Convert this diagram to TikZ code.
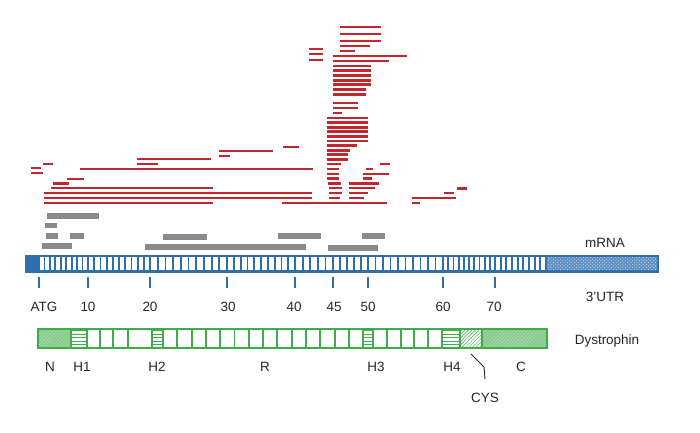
\documentclass[tikz,border=0pt]{standalone}
\usepackage{fontspec}
\setmainfont{Liberation Sans}
\usetikzlibrary{patterns}
\definecolor{mblue}{HTML}{2F6EA8}
\definecolor{ublue}{HTML}{5E8FC2}
\definecolor{rred}{HTML}{C1272D}
\definecolor{ggray}{HTML}{8A8A8A}
\definecolor{dgreen}{HTML}{3FAE49}
\definecolor{lgreen}{HTML}{86C98A}
\tikzset{
  lbl/.style={font=\fontsize{11.5}{13}\selectfont, text=black!85},
  read/.style={rred, line width=2.4pt},
  pep/.style={fill=ggray},
  tickm/.style={mblue, line width=1.4pt},
  gline/.style={dgreen, line width=1.6pt},
}
\begin{document}
\begin{tikzpicture}[x=0.03cm,y=-0.03cm]
\useasboundingbox (0,0) rectangle (700,433);
% reads
\foreach \a/\b/\y in {340/381/27, 340/381/34, 340/381/41, 340/370/46, 309/323/49, 340/355/51, 309/323/54,
  333/407/56, 309/323/60, 333/389/61, 333/371/66, 333/371/70.7, 333/371/75.4, 333/371/80.1, 333/371/84.8,
  333/366/89.9, 333/366/94.6, 333/358/103, 333/358/108, 333/342/113, 327/368/118, 327/368/122.6, 327/368/127.2,
  327/368/131.8, 327/368/136.4, 327/368/141, 327/357/145.6, 327/350/150.2, 327/348/154.8, 327/348/159.4, 327/341/164,
  327/339/169, 327/339/174, 327/339/178.6, 328/341/183.3, 329/342/188, 329/342/193, 329/340/198}
  \draw[read] (\a,\y) -- (\b,\y); % main stack
\foreach \a/\b/\y in {380/390/164, 366/373/169, 363/389/174, 363/372/178.6, 349/379/183.3, 349/375/188,
  349/368/193, 349/364/198, 282/387/203, 412/420/203, 412/456/198, 444/454/193, 457/467/188.5}
  \draw[read] (\a,\y) -- (\b,\y); % right side
\foreach \a/\b/\y in {283/299/147, 219/273/151, 219/230/156, 137/211/159, 137/158/164, 43/53/164,
  31/41/168, 80/313/169, 31/43/173, 67/84/179, 53/69/183.3, 51/213/188, 44/312/193, 44/312/198, 44/213/203}
  \draw[read] (\a,\y) -- (\b,\y); % left side
% peptides
\foreach \a/\y/\b/\z in {47/213/99/219, 45/223/57/228, 46/233/58/239, 70/233/84/239, 42/243/72/249,
  163/234/207/240, 145/244/306/250, 278/233/321/239, 328/245/378/251, 362/233/385/239}
  \fill[pep] (\a,\y) rectangle (\b,\z);
% mRNA
\fill[mblue] (25,255) rectangle (659,273);
\foreach \a/\b/\n in {39/88/9, 88/150/10, 150/227/10, 227/295/10, 295/333/5, 333/368/5, 368/443/10,
  443/495/10, 495/546/9}{
  \pgfmathsetmacro\w{(\b-\a)/\n}
  \foreach \i in {1,...,\n}
    \fill[white] ({\a+(\i-1)*\w+0.9},257.5) rectangle ({\a+\i*\w-0.9},270.5);
}
\fill[ublue] (547,257.5) rectangle (657,270.5); % 3'UTR
\fill[pattern=crosshatch dots, pattern color=white!70!ublue] (547,257.5) rectangle (657,270.5);
\foreach \x in {39,88,150,227,295,333,368,443,495}
  \draw[tickm] (\x,277) -- (\x,288);
\node[lbl] (atg) at (44,307) {ATG};
\foreach \x/\t in {88/10, 150/20, 228/30, 294/40, 334/45, 368/50, 443/60, 494/70}
  \node[lbl] (ex\t) at (\x,307) {\t};
\node[lbl] (mrna) at (605,243) {mRNA};
\node[lbl] (utr) at (605,297) {3'UTR};
% dystrophin
\fill[lgreen] (38,329) rectangle (71,348) (482,329) rectangle (547,348);
\fill[pattern=north east lines, pattern color=white!40!lgreen] (38,329) rectangle (71,348) (482,329) rectangle (547,348);
\fill[pattern=horizontal lines, pattern color=dgreen] (71,329) rectangle (87,348) (152,329) rectangle (163,348)
  (363,329) rectangle (373,348) (442,329) rectangle (460,348);
\fill[pattern=north east lines, pattern color=dgreen] (460,329) rectangle (482,348); % CYS
\foreach \x in {71,87,100,113,128,152,163,177.3,191.6,205.9,220.2,234.5,248.8,263.1,277.4,291.7,306,
  320.3,334.6,348.9,363,373,386.8,400.6,414.4,428.2,442,460,482}
  \draw[gline] (\x,329) -- (\x,348);
\draw[gline] (38,329) rectangle (547,348);
\foreach \x/\t in {50/N, 82/H1, 157/H2, 265/R, 376/H3, 452/H4, 521/C}
  \node[lbl] (d\t) at (\x,367) {\t};
\node[lbl] (cys) at (485,398) {CYS};
\draw[black!85, line width=0.8pt] (471,354) -- (484,367) -- ([yshift=0.3cm]cys.north);
\node[lbl] (dys) at (607,341) {Dystrophin};
\end{tikzpicture}
\end{document}
